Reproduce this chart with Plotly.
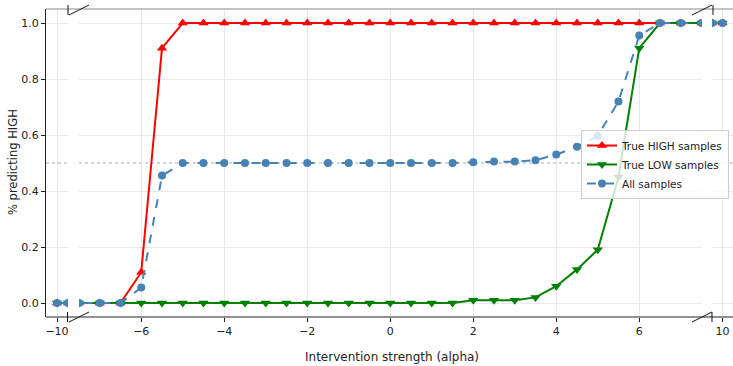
import plotly.graph_objects as go

alpha = [-10, -9.5, -9, -8.5, -8, -7.5, -7, -6.5, -6, -5.5, -5, -4.5, -4, -3.5, -3, -2.5,
         -2, -1.5, -1, -0.5, 0, 0.5, 1, 1.5, 2, 2.5, 3, 3.5, 4, 4.5, 5, 5.5, 6, 6.5, 7,
         7.5, 8, 8.5, 9, 9.5, 10]
true_high = [0, 0, 0, 0, 0, 0, 0, 0, 0.11, 0.91, 1, 1, 1, 1, 1, 1,
             1, 1, 1, 1, 1, 1, 1, 1, 1, 1, 1, 1, 1, 1, 1, 1, 1, 1, 1,
             1, 1, 1, 1, 1, 1]
true_low = [0, 0, 0, 0, 0, 0, 0, 0, 0, 0, 0, 0, 0, 0, 0, 0,
            0, 0, 0, 0, 0, 0, 0, 0, 0.01, 0.01, 0.01, 0.02, 0.06, 0.12, 0.19, 0.45, 0.91, 1, 1,
            1, 1, 1, 1, 1, 1]
all_samples = [0, 0, 0, 0, 0, 0, 0, 0, 0.055, 0.455, 0.5, 0.5, 0.5, 0.5, 0.5, 0.5,
               0.5, 0.5, 0.5, 0.5, 0.5, 0.5, 0.5, 0.5, 0.503, 0.505, 0.505, 0.51, 0.53, 0.558, 0.597, 0.72, 0.955, 1, 1,
               1, 1, 1, 1, 1, 1]

series = [
    ("True HIGH samples", true_high, "#ff0000", "triangle-up", "solid"),
    ("True LOW samples", true_low, "#008000", "triangle-down", "solid"),
    ("All samples", all_samples, "#4682b4", "circle", "dash"),
]

W, H = 733, 366
L, R, T, B = 46, 0, 9, 49
PW, PH = W - L - R, H - T - B


def px(x):
    return (x - L) / PW


def py(y):
    return (H - B - y) / PH


fig = go.Figure()
for ax in ["x", "x2", "x3"]:
    for name, vals, color, sym, dash in series:
        fig.add_trace(go.Scatter(
            x=alpha, y=vals, xaxis=ax, yaxis="y", mode="lines+markers", name=name,
            legendgroup=name, showlegend=(ax == "x2"),
            line=dict(color=color, width=2, dash=dash),
            marker=dict(symbol=sym, size=8 if sym == "circle" else 9, color=color),
        ))

font = "DejaVu Sans"
grid = "#e8e8e8"
xcommon = dict(showgrid=True, gridcolor=grid, gridwidth=1, zeroline=False, showline=False,
               ticks="outside", ticklen=4, tickcolor="#222", tickfont=dict(size=11, color="#222", family=font),
               anchor="y")

shapes = []
for ax in ["x", "x2", "x3"]:
    shapes.append(dict(type="line", xref=ax + " domain", yref="y", x0=0, x1=1, y0=0.5, y1=0.5,
                       line=dict(color="#aaaaaa", width=1, dash="dot"), layer="below"))
# spines
shapes.append(dict(type="line", xref="paper", yref="paper", x0=0, x1=1, y0=1, y1=1,
                   line=dict(color="#888888", width=1)))
shapes.append(dict(type="line", xref="paper", yref="paper", x0=0, x1=1, y0=0, y1=0,
                   line=dict(color="#222222", width=1)))
# break marks
for (x0, y0, x1, y1) in [(68, 5, 68, 15), (69, 15, 89, 5), (67.5, 312, 67.5, 322), (69, 322, 89, 312),
                         (692, 15, 712, 5), (713, 5, 713, 15), (692, 322, 712, 312), (712, 312, 712, 322)]:
    shapes.append(dict(type="line", xref="paper", yref="paper", x0=px(x0), x1=px(x1), y0=py(y0), y1=py(y1),
                       line=dict(color="#111111", width=1)))

fig.update_layout(
    width=W, height=H, margin=dict(l=L, r=R, t=T, b=B, autoexpand=False),
    paper_bgcolor="white", plot_bgcolor="white",
    font=dict(family=font, color="#222"),
    xaxis=dict(domain=[0, px(68)], range=[-10.5, -9.5], tickvals=[-10], **xcommon),
    xaxis2=dict(domain=[px(79), px(701.5)], range=[-7.5, 7.5], tickvals=[-6, -4, -2, 0, 2, 4, 6], **xcommon),
    xaxis3=dict(domain=[px(712), 1], range=[9.5, 10.5], tickvals=[10], **xcommon),
    yaxis=dict(anchor="x", range=[-0.05, 1.05], tickvals=[0, 0.2, 0.4, 0.6, 0.8, 1.0],
               ticktext=["0.0", "0.2", "0.4", "0.6", "0.8", "1.0"],
               showgrid=True, gridcolor=grid, zeroline=False, showline=True, linecolor="#222", linewidth=1,
               ticks="outside", ticklen=4, tickcolor="#222", tickfont=dict(size=11, color="#222", family=font)),
    shapes=shapes,
    showlegend=True,
    legend=dict(x=px(729), y=py(130), xanchor="right", yanchor="top",
                bgcolor="rgba(255,255,255,0.8)", bordercolor="#cccccc", borderwidth=1,
                font=dict(size=10.5, family=font, color="#222"), tracegroupgap=0, itemwidth=30),
    annotations=[
        dict(text="Intervention strength (alpha)", xref="paper", yref="paper", x=px(392), y=py(357),
             xanchor="center", yanchor="middle", showarrow=False, font=dict(size=12, family=font, color="#222")),
        dict(text="% predicting HIGH", xref="paper", yref="paper", x=px(13), y=py(162), textangle=-90,
             xanchor="center", yanchor="middle", showarrow=False, font=dict(size=11.5, family=font, color="#222")),
    ],
)

fig.write_html("out.html", config={"displayModeBar": False},
               post_script="document.body.style.margin='0';document.body.style.overflow='hidden';")
